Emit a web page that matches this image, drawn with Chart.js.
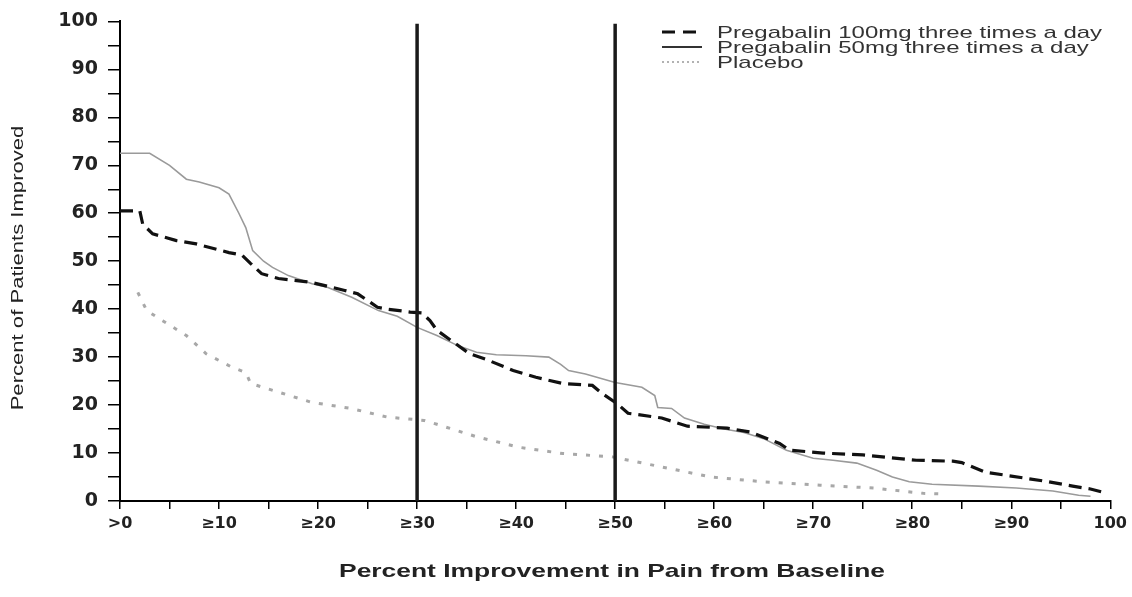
<!DOCTYPE html>
<html>
<head>
<meta charset="utf-8">
<script src="https://cdn.jsdelivr.net/npm/chart.js@4.4.0/dist/chart.umd.min.js"></script>
<style>
html,body{margin:0;padding:0;background:#fff;}
#wrap{width:1132px;height:597px;position:relative;}
</style>
</head>
<body>
<div id="wrap"><canvas id="c" width="1132" height="597"></canvas></div>
<script>
// ---- Data ----
const seriesLabels = ['Pregabalin 100mg three times a day', 'Pregabalin 50mg three times a day', 'Placebo'];

const x100 = [0, 2, 2.3, 3.3, 5.7, 7.7, 11, 12.3, 13.2, 14.3, 16, 19.3, 22.7, 24, 26, 27, 29.3, 30.5, 31.3, 32, 35.3, 37, 39.7, 42, 44.7, 47.7, 48.7, 50.2, 51.3, 54.7, 57.3, 61.3, 63.6, 66.6, 67.6, 71, 75, 80.4, 84.1, 85, 87.4, 90, 93.8, 96.2, 98, 99.5];
const y100 = [60.5, 60.5, 57.7, 55.7, 54.3, 53.6, 51.8, 51.3, 49.5, 47.4, 46.4, 45.6, 43.9, 43.2, 40.4, 40, 39.4, 39.2, 37.6, 35.6, 30.7, 29.5, 27.2, 25.8, 24.5, 24.1, 22.4, 20.3, 18.3, 17.3, 15.6, 15.2, 14.4, 12, 10.6, 10, 9.6, 8.5, 8.3, 8, 6, 5.2, 4, 3.1, 2.5, 1.7];

const x50 = [0, 3, 5, 6.7, 8, 10, 11, 12, 12.7, 13.4, 14.5, 15.4, 17, 19.4, 21, 23.4, 26.1, 28, 30, 32, 34, 36, 38, 41, 43.3, 44.5, 45.3, 47, 50, 52.7, 54, 54.3, 55.7, 57, 59, 61, 63, 65, 67.3, 70, 72, 74.4, 76.4, 78, 79.7, 82, 86.7, 90.5, 94.2, 96.8, 98];
const y50 = [72.5, 72.5, 70, 67.1, 66.5, 65.3, 64, 60, 57, 52.2, 50, 48.7, 47, 45.3, 44.5, 42.5, 39.7, 38.5, 36.2, 34.5, 32.5, 31, 30.5, 30.3, 30, 28.5, 27.2, 26.5, 24.7, 23.7, 22, 19.5, 19.3, 17.3, 16, 15, 14.3, 13, 10.6, 8.9, 8.5, 7.9, 6.4, 5, 4, 3.5, 3.1, 2.7, 2.1, 1.2, 1];

const xPlacebo = [1.8, 2.7, 4.3, 6.7, 8.7, 11.3, 12.7, 13.2, 16, 19.3, 23.3, 27, 30.7, 32, 36, 40.3, 44.7, 49.7, 54.7, 59.7, 65, 70.7, 76.1, 81.1, 82.7];
const yPlacebo = [43.5, 39.7, 37.6, 34.5, 30.7, 27.9, 26.8, 24.5, 22.7, 20.6, 19.3, 17.5, 16.8, 16, 13.4, 11.2, 9.9, 9.2, 7.1, 5, 4, 3.3, 2.7, 1.6, 1.5];

const refLinesX = [30, 50];
const yRange = [0, 100];
const xRange = [0, 100];

const xTickValues = [0, 10, 20, 30, 40, 50, 60, 70, 80, 90, 100];
const xTickText = ['>0', '≥10', '≥20', '≥30', '≥40', '≥50', '≥60', '≥70', '≥80', '≥90', '100'];
const yTickValues = [0, 10, 20, 30, 40, 50, 60, 70, 80, 90, 100];

const xTitle = 'Percent Improvement in Pain from Baseline';
const yTitle = 'Percent of Patients Improved';

// ---- Build datasets ----
const toPts = (xs, ys) => xs.map((x, i) => ({x: x, y: ys[i]}));

const datasets = [
  {label: seriesLabels[0], data: toPts(x100, y100), borderColor: '#111', borderWidth: 3.2, borderDash: [13, 7], pointRadius: 0, tension: 0, fill: false, order: 1},
  {label: seriesLabels[1], data: toPts(x50, y50), borderColor: '#9a9a9a', borderWidth: 1.6, pointRadius: 0, tension: 0, fill: false, order: 2},
  {label: seriesLabels[2], data: toPts(xPlacebo, yPlacebo), borderColor: '#a8a8a8', borderWidth: 3, borderDash: [4, 9], pointRadius: 0, tension: 0, fill: false, order: 3}
];
refLinesX.forEach(v => {
  datasets.push({label: '_ref' + v, data: [{x: v, y: yRange[0]}, {x: v, y: yRange[1] - 0.5}], borderColor: '#1a1a1a', borderWidth: 3.5, pointRadius: 0, fill: false, order: 0});
});

// ---- Custom text/legend plugin ----
const legendSamples = [
  {color: '#111', width: 3, dash: [13, 8]},
  {color: '#333', width: 2, dash: []},
  {color: '#999', width: 1.5, dash: [2, 3]}
];

const textPlugin = {
  id: 'textPlugin',
  afterDraw(chart) {
    const ctx = chart.ctx;
    const ca = chart.chartArea;
    // Legend
    const rowY = [32, 47, 62];
    seriesLabels.forEach((lab, i) => {
      const s = legendSamples[i];
      ctx.save();
      ctx.strokeStyle = s.color;
      ctx.lineWidth = s.width;
      ctx.setLineDash(s.dash);
      ctx.beginPath();
      ctx.moveTo(662, rowY[i]);
      ctx.lineTo(702, rowY[i]);
      ctx.stroke();
      ctx.restore();
      ctx.save();
      ctx.translate(717, rowY[i] + 1);
      ctx.scale(1.41, 1);
      ctx.font = '17px "Liberation Sans", Arial, sans-serif';
      ctx.fillStyle = '#333';
      ctx.textBaseline = 'middle';
      ctx.textAlign = 'left';
      ctx.fillText(lab, 0, 0);
      ctx.restore();
    });
    // X title
    ctx.save();
    ctx.translate(612, 572);
    ctx.scale(1.39, 1);
    ctx.font = 'bold 19px "Liberation Sans", Arial, sans-serif';
    ctx.fillStyle = '#222';
    ctx.textAlign = 'center';
    ctx.textBaseline = 'middle';
    ctx.fillText(xTitle, 0, 0);
    ctx.restore();
    // Y title
    ctx.save();
    ctx.translate(19, 268);
    ctx.rotate(-Math.PI / 2);
    ctx.scale(1.38, 1);
    ctx.font = '16px "Liberation Sans", Arial, sans-serif';
    ctx.fillStyle = '#222';
    ctx.textAlign = 'center';
    ctx.textBaseline = 'middle';
    ctx.fillText(yTitle, 0, 0);
    ctx.restore();
  }
};

new Chart(document.getElementById('c'), {
  type: 'line',
  data: {datasets: datasets},
  options: {
    responsive: false,
    animation: false,
    devicePixelRatio: 1,
    layout: {padding: {left: 0, right: 16, top: 20, bottom: 0}},
    plugins: {legend: {display: false}, tooltip: {enabled: false}},
    scales: {
      x: {
        type: 'linear',
        min: xRange[0], max: xRange[1],
        afterFit: s => { s.height = 96; },
        afterBuildTicks: s => { const t = []; for (let v = xRange[0]; v <= xRange[1]; v += 5) t.push({value: v}); s.ticks = t; },
        ticks: {
          autoSkip: false, maxRotation: 0, padding: 5,
          color: '#222',
          font: {family: '"DejaVu Sans", sans-serif', weight: 'bold', size: 16},
          callback: v => { const i = xTickValues.indexOf(v); return i >= 0 ? xTickText[i] : ''; }
        },
        grid: {drawOnChartArea: false, drawTicks: true, tickLength: 8, color: '#000', lineWidth: 1.5},
        border: {display: true, color: '#000', width: 2}
      },
      y: {
        type: 'linear',
        min: yRange[0], max: yRange[1],
        afterFit: s => { s.width = 120; },
        afterBuildTicks: s => { const t = []; for (let v = yRange[0]; v <= yRange[1]; v += 5) t.push({value: v}); s.ticks = t; },
        ticks: {
          autoSkip: false, padding: 10,
          color: '#222',
          font: {family: '"DejaVu Sans", sans-serif', weight: 'bold', size: 19},
          callback: v => (yTickValues.indexOf(v) >= 0 ? String(v) : '')
        },
        grid: {drawOnChartArea: false, drawTicks: true, tickLength: 12, color: '#000', lineWidth: 1.5},
        border: {display: true, color: '#000', width: 2}
      }
    }
  },
  plugins: [textPlugin]
});
</script>
</body>
</html>
